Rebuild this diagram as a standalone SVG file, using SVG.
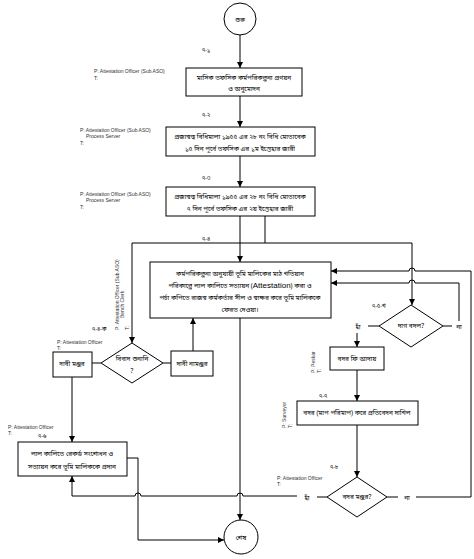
<svg xmlns="http://www.w3.org/2000/svg" width="474" height="559" viewBox="0 0 474 559">
<defs>
<marker id="ah" viewBox="0 0 10 10" refX="10" refY="5" markerWidth="6" markerHeight="6" orient="auto" markerUnits="userSpaceOnUse"><path d="M0,0 L10,5 L0,10 Z" fill="#000"/></marker>
<style>
.b{fill:#fff;stroke:#000;stroke-width:1}
.c{fill:none;stroke:#000;stroke-width:1}
.t{font-family:"Noto Sans Bengali","Lohit Bengali","Noto Sans",sans-serif;font-size:6.5px;fill:#000;text-anchor:middle}
.l{font-family:"Liberation Sans",Arial,sans-serif;font-size:5px;fill:#333}
.n{font-family:"Noto Sans Bengali","Noto Sans",sans-serif;font-size:5.5px;fill:#000}
</style>
</defs>
<rect width="474" height="559" fill="#fff"/>
<g id="connectors">
<path class="c" d="M240,35 V68" marker-end="url(#ah)"/>
<path class="c" d="M240,96 V127" marker-end="url(#ah)"/>
<path class="c" d="M240,156 V187" marker-end="url(#ah)"/>
<path class="c" d="M240,216 V262" marker-end="url(#ah)"/>
<path class="c" d="M265,216 V243 M132,243 H412"/>
<path class="c" d="M132,243 V343" marker-end="url(#ah)"/>
<path class="c" d="M412,243 V305" marker-end="url(#ah)"/>
<path class="c" d="M240,318 V520" marker-end="url(#ah)"/>
<path class="c" d="M92,363 H101 M163,363 H171"/>
<path class="c" d="M193,351 V318" marker-end="url(#ah)"/>
<path class="c" d="M72,377 V442" marker-end="url(#ah)"/>
<path class="c" d="M127,458 H138 V540 H224" marker-end="url(#ah)"/>
<path class="c" d="M297,496 H243 A3,3 0 0 0 237,496 H141 A3,3 0 0 0 135,496 H72 V476" marker-end="url(#ah)"/>
<path class="c" d="M379,326 H368 M357,333 V347" marker-end="url(#ah)"/>
<path class="c" d="M443,326 H452 M459,321 V283 H415 A3,3 0 0 0 409,283 H331" marker-end="url(#ah)"/>
<path class="c" d="M416,497 H471 V271 H415 A3,3 0 0 0 409,271 H331" marker-end="url(#ah)"/>
<path class="c" d="M357,370 V401" marker-end="url(#ah)"/>
<path class="c" d="M357,425 V477" marker-end="url(#ah)"/>
<path class="c" d="M327,497 H317 M387,497 H398"/>
</g>
<g id="start"><circle class="b" cx="240" cy="19" r="16"/><text class="t" x="240" y="22">শুরু</text></g>
<g id="n71">
<text class="n" x="202" y="52">৭-১</text>
<text class="l" x="94" y="73">P: Attestation Officer (Sub ASO)</text><text class="l" x="94" y="80">T:</text>
<rect class="b" x="186" y="68" width="116" height="28"/>
<text class="t" x="244" y="80">মাসিক তফসিক কর্মপরিকল্পনা প্রণয়ন</text>
<text class="t" x="244" y="91">ও অনুমোদন</text>
</g>
<g id="n72">
<text class="n" x="202" y="117">৭-২</text>
<text class="l" x="80" y="132">P: Attestation Officer (Sub ASO)</text><text class="l" x="86" y="138">Process Server</text><text class="l" x="80" y="145">T:</text>
<rect class="b" x="166" y="127" width="149" height="29"/>
<text class="t" x="240" y="139">প্রজাস্বত্ব বিধিমালা ১৯৫৫ এর ২৮ নং বিধি মোতাবেক</text>
<text class="t" x="240" y="151">১৫ দিন পূর্বে তফসিক এর ১ম ইস্তেহার জারী</text>
</g>
<g id="n73">
<text class="n" x="202" y="180">৭-৩</text>
<text class="l" x="80" y="196">P: Attestation Officer (Sub ASO)</text><text class="l" x="86" y="202">Process Server</text><text class="l" x="80" y="209">T:</text>
<rect class="b" x="166" y="187" width="149" height="29"/>
<text class="t" x="240" y="199">প্রজাস্বত্ব বিধিমালা ১৯৫৫ এর ২৮ নং বিধি মোতাবেক</text>
<text class="t" x="240" y="211">৭ দিন পূর্বে তফসিক এর ২য় ইস্তেহার জারী</text>
</g>
<g id="n74">
<text class="n" x="202" y="241">৭-৪</text>
<rect class="b" x="150" y="262" width="181" height="56"/>
<text class="t" x="240" y="276">কর্মপরিকল্পনা অনুযায়ী ভূমি মালিকের মাঠ খতিয়ান</text>
<text class="t" x="240" y="288">পরিকাল্পে লাল কালিতে সত্যায়ন (<tspan font-family="Liberation Sans" font-size="8">Attestation</tspan>) করা ও</text>
<text class="t" x="240" y="300">পর্চা কপিতে রাজস্ব কর্মকর্তার সীল ও স্বাক্ষর করে ভূমি মালিককে</text>
<text class="t" x="240" y="312">ফেরত দেওয়া।</text>
</g>
<g id="n74k">
<text class="l" transform="translate(119,330) rotate(-90)">P: Attestation Officer (Sub ASO)</text>
<text class="l" transform="translate(124,318) rotate(-90)">Bench Clerk</text>
<text class="l" transform="translate(129,330) rotate(-90)">T:</text>
<text class="n" x="92" y="331">৭-৪-ক</text>
<text class="l" x="57" y="344">P: Attestation Officer</text><text class="l" x="57" y="350">T:</text>
<path class="b" d="M132,343 L163,363 L132,383 L101,363 Z"/>
<text class="t" x="132" y="361">বিবাদ শুনানি</text>
<text class="t" x="132" y="373">?</text>
</g>
<g id="approve"><rect class="b" x="53" y="352" width="39" height="25"/><text class="t" x="72" y="366">দাবী মঞ্জুর</text></g>
<g id="reject"><rect class="b" x="171" y="351" width="42" height="25"/><text class="t" x="192" y="366">দাবী নামঞ্জুর</text></g>
<g id="n76">
<text class="l" x="8" y="429">P: Attestation Officer</text><text class="l" x="8" y="435">T:</text>
<text class="n" x="38" y="438">৭-৬</text>
<rect class="b" x="18" y="442" width="109" height="34"/>
<text class="t" x="72" y="456">লাল কালিতে রেকর্ড সংশোধন ও</text>
<text class="t" x="72" y="469">সত্যায়ন করে  ভূমি মালিককে প্রদান</text>
</g>
<g id="n75kh">
<text class="n" x="372" y="308">৭-৫-খ</text>
<path class="b" d="M411,305 L443,326 L411,347 L379,326 Z"/>
<text class="t" x="411" y="328">দাগ বদল?</text>
<text class="t" x="358" y="329">হাঁ</text>
<text class="t" x="459" y="329">না</text>
</g>
<g id="fee">
<text class="l" transform="translate(315,373) rotate(-90)">P: Peskar</text>
<text class="l" transform="translate(321,373) rotate(-90)">T:</text>
<rect class="b" x="330" y="347" width="54" height="23"/>
<text class="t" x="357" y="361">বদর ফি আদায়</text>
</g>
<g id="n77">
<text class="n" x="319" y="398">৭-৭</text>
<text class="l" transform="translate(286,428) rotate(-90)">P: Surveyor</text>
<text class="l" transform="translate(292,428) rotate(-90)">T:</text>
<rect class="b" x="297" y="401" width="121" height="24"/>
<text class="t" x="357" y="415">বদর (মাপ পরিমাপ) করে প্রতিবেদন দাখিল</text>
</g>
<g id="n78">
<text class="n" x="330" y="469">৭-৮</text>
<text class="l" x="277" y="480">P: Attestation Officer</text><text class="l" x="277" y="486">T:</text>
<path class="b" d="M357,477 L387,497 L357,517 L327,497 Z"/>
<text class="t" x="357" y="499">বদর মঞ্জুর?</text>
<text class="t" x="307" y="500">হাঁ</text>
<text class="t" x="407" y="500">না</text>
</g>
<g id="end"><circle class="b" cx="241" cy="537" r="17"/><text class="t" x="241" y="540">শেষ</text></g>
</svg>
